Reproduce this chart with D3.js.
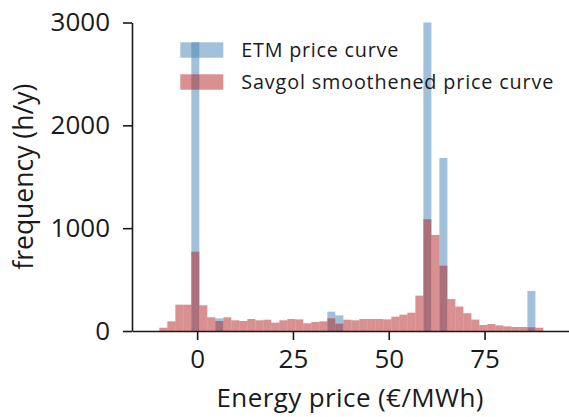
<!DOCTYPE html>
<html>
<head>
<meta charset="utf-8">
<script src="https://cdn.jsdelivr.net/npm/d3@7"></script>
<style>
  html, body { margin: 0; padding: 0; background: #fff; }
  svg { display: block; font-family: "Open Sans", "Noto Sans", sans-serif; }
</style>
</head>
<body>
<svg id="chart" width="569" height="417"></svg>
<script>
// Histogram bins shared by both price curves (€/MWh)
const binStart = -9.87;
const binWidth = 2.088;
const binCount = 48;

// Hours per year falling in each bin
const etmCounts = [
  0, 0, 0, 0, 2808, 0, 0, 123, 0, 0,
  0, 0, 0, 0, 0, 0, 0, 0, 0, 0,
  0, 188, 152, 0, 0, 0, 0, 0, 0, 0,
  0, 0, 0, 3000, 0, 1683, 0, 0, 0, 0,
  0, 0, 0, 0, 0, 0, 389, 0
];
const savgolCounts = [
  32, 94, 256, 256, 771, 250, 133, 97, 133, 104,
  97, 117, 104, 110, 81, 104, 117, 113, 75, 88,
  94, 123, 71, 110, 104, 117, 117, 117, 113, 139,
  159, 178, 344, 1087, 934, 635, 310, 238, 173, 111,
  58, 68, 55, 45, 39, 39, 36, 32
];

const xTicks = [0, 25, 50, 75];
const yTicks = [0, 1000, 2000, 3000];

const seriesNames = ["ETM price curve", "Savgol smoothened price curve"];
const seriesColors = ["steelblue", "firebrick"];

const svg = d3.select("#chart");
const ink = "#1a1a1a";

const x = d3.scaleLinear().domain([-17, 98.6]).range([132, 575]);
const y = d3.scaleLinear().domain([0, 3000]).range([331, 22.5]);

const edges = d3.range(binCount + 1).map(i => binStart + i * binWidth);
const bins = d3.range(binCount).map(i => ({ x0: edges[i], x1: edges[i + 1] }));

// Bars: ETM first, smoothed curve layered on top
[etmCounts, savgolCounts].forEach((counts, s) => {
  svg.append("g")
    .selectAll("rect")
    .data(bins.map((b, i) => ({ ...b, v: counts[i] })).filter(d => d.v > 0))
    .join("rect")
      .attr("x", d => x(d.x0))
      .attr("width", d => x(d.x1) - x(d.x0))
      .attr("y", d => y(d.v))
      .attr("height", d => y(0) - y(d.v))
      .attr("fill", seriesColors[s])
      .attr("fill-opacity", 0.5);
});

// Axes
const xAxis = svg.append("g")
  .attr("transform", `translate(0,${y(0)})`)
  .call(d3.axisBottom(x).tickValues(xTicks).tickFormat(d3.format("d"))
    .tickSize(9).tickPadding(10).tickSizeOuter(0));
const yAxis = svg.append("g")
  .attr("transform", `translate(${x(-17)},0)`)
  .call(d3.axisLeft(y).tickValues(yTicks).tickFormat(d3.format("d"))
    .tickSize(9).tickPadding(13).tickSizeOuter(0));

[xAxis, yAxis].forEach(g => {
  g.select(".domain").attr("stroke", ink).attr("stroke-width", 1.6);
  g.selectAll(".tick line").attr("stroke", ink).attr("stroke-width", 1.6);
  g.selectAll(".tick text")
    .attr("fill", ink)
    .style("font-size", "26px")
    .style("font-family", "'Open Sans', 'Noto Sans', sans-serif");
});

// Axis titles
svg.append("text")
  .attr("x", 350)
  .attr("y", 406.5)
  .attr("text-anchor", "middle")
  .attr("fill", ink)
  .attr("textLength", 267)
  .attr("lengthAdjust", "spacing")
  .style("font-size", "26px")
  .text("Energy price (€/MWh)");

svg.append("text")
  .attr("transform", `translate(33.3,${(y(0) + y(3000)) / 2}) rotate(-90)`)
  .attr("text-anchor", "middle")
  .attr("fill", ink)
  .style("font-size", "26.5px")
  .text("frequency (h/y)");

// Legend
const legendWidths = [157, 312];
const legend = svg.append("g");
seriesNames.forEach((name, i) => {
  const cy = 50 + i * 32;
  legend.append("rect")
    .attr("x", 180.3)
    .attr("y", cy - 7.7)
    .attr("width", 43)
    .attr("height", 15.4)
    .attr("fill", seriesColors[i])
    .attr("fill-opacity", 0.5);
  legend.append("text")
    .attr("x", 241.3)
    .attr("y", cy + 7)
    .attr("fill", ink)
    .attr("textLength", legendWidths[i])
    .attr("lengthAdjust", "spacing")
    .style("font-size", "19.8px")
    .text(name);
});
</script>
</body>
</html>
